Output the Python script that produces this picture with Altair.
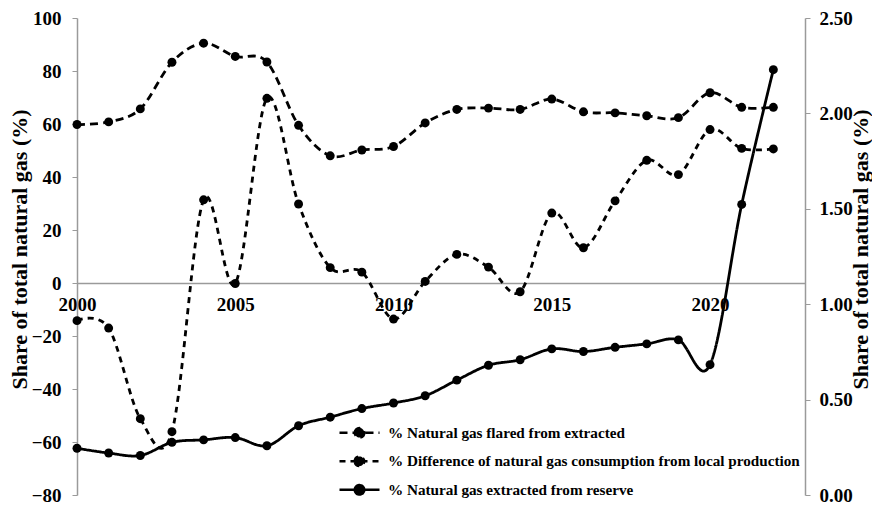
import altair as alt
import pandas as pd

years = list(range(2000, 2023))
names = [
    "% Natural gas flared from extracted",
    "% Difference of natural gas consumption from local production",
    "% Natural gas extracted from reserve",
]
flared = [59.8, 60.8, 65.7, 83.3, 90.5, 85.5, 83.4, 59.5, 48.0, 50.2, 51.5, 60.4,
          65.5, 66.0, 65.5, 69.4, 64.6, 64.2, 63.1, 62.4, 71.8, 66.3, 66.3]
difference = [-14.2, -17.0, -51.2, -56.1, 31.4, -0.2, 69.7, 29.8, 5.8, 4.1, -13.6, 0.6,
              10.8, 6.0, -3.3, 26.4, 13.3, 31.0, 46.3, 40.9, 57.9, 50.8, 50.6]
reserve = [0.245, 0.220, 0.207, 0.276, 0.289, 0.301, 0.258, 0.363, 0.408, 0.453, 0.482, 0.520,
           0.602, 0.680, 0.709, 0.766, 0.752, 0.774, 0.792, 0.813, 0.683, 1.523, 2.229]
left_ticks = [-80, -60, -40, -20, 0, 20, 40, 60, 80, 100]
right_ticks = [0.0, 0.5, 1.0, 1.5, 2.0, 2.5]
year_ticks = [2000, 2005, 2010, 2015, 2020]

left_df = pd.DataFrame({
    "year": years * 2,
    "value": flared + difference,
    "series": [names[0]] * len(years) + [names[1]] * len(years),
})
right_df = pd.DataFrame({"year": years, "value": reserve, "series": [names[2]] * len(years)})

FONT = "Liberation Serif"
GRAY = "#9a9a9a"
H = 477

dash_scale = alt.Scale(domain=names, range=[[8, 5], [6, 5], [1, 0]])
sym = "M-1.6,0L1.6,0M-0.38,0A0.38,0.38,0,1,1,0.38,0A0.38,0.38,0,1,1,-0.38,0Z"
legend = alt.Legend(
    title=None, orient="none", legendX=268.5, legendY=400.8,
    symbolType=sym, symbolSize=625, symbolStrokeWidth=2.5,
    symbolFillColor="black", symbolStrokeColor="black",
    labelFont=FONT, labelFontSize=15.2, labelFontWeight="bold", labelColor="black",
    labelOffset=14.5, rowPadding=4.5, padding=0, labelLimit=600,
)

xscale = alt.Scale(domain=[2000, 2023], nice=False, zero=False)
x_axis = alt.Axis(
    values=year_ticks, format="d", title=None, offset=-(H * 80 / 180), domainColor=GRAY,
    domainWidth=1.5, ticks=False, tickSize=0, labelPadding=12, grid=False,
    labelFlush=False, labelOverlap=False,
    labelFont=FONT, labelFontSize=19, labelFontWeight="bold", labelColor="black",
)
X = alt.X("year:Q", scale=xscale, axis=x_axis)


def y_axis(**kw):
    return alt.Axis(
        title="Share of total natural gas (%)", grid=False,
        domainColor=GRAY, domainWidth=1.5, tickColor=GRAY, tickSize=5,
        labelFont=FONT, labelFontSize=19, labelFontWeight="bold", labelFlush=False,
        labelColor="black", titleFont=FONT, titleFontSize=22, titleFontWeight="bold",
        titleColor="black", titleAngle=270, titleBaseline="bottom", titleY=231, **kw)


ly = alt.Y("value:Q", scale=alt.Scale(domain=[-80, 100], nice=False),
           axis=y_axis(values=left_ticks, labelPadding=11, titleX=-46))
ry = alt.Y("value:Q", scale=alt.Scale(domain=[0, 2.5], nice=False),
           axis=y_axis(orient="right", values=right_ticks, format=".2f",
                       labelPadding=9, titleX=67))

left_line = alt.Chart(left_df).mark_line(
    interpolate="cardinal", color="black", strokeWidth=2.8
).encode(x=X, y=ly, strokeDash=alt.StrokeDash("series:N", scale=dash_scale, legend=legend))
left_pts = alt.Chart(left_df).mark_circle(size=80, color="black", opacity=1).encode(
    x=X, y=ly, detail="series:N")

right_line = alt.Chart(right_df).mark_line(
    interpolate="cardinal", color="black", strokeWidth=2.8
).encode(x=X, y=ry, strokeDash=alt.StrokeDash("series:N", scale=dash_scale, legend=legend))
right_pts = alt.Chart(right_df).mark_circle(size=80, color="black", opacity=1).encode(
    x=X, y=ry, detail="series:N")

left = alt.layer(left_line, left_pts)
right = alt.layer(right_line, right_pts)

chart = alt.layer(left, right).resolve_scale(y="independent").properties(
    width=728, height=H,
    autosize=alt.AutoSizeParams(type="none"),
    padding={"left": 69, "top": 10, "right": 67, "bottom": 10},
    background="white",
).configure_view(stroke=None)

chart.save("out.html", embed_options={"renderer": "svg", "actions": False})
